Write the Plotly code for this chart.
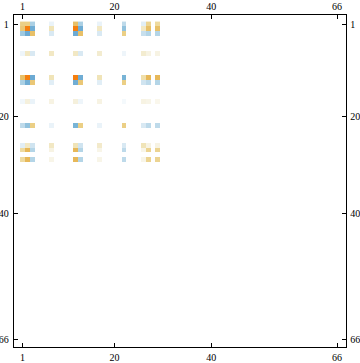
import numpy as np
import plotly.graph_objects as go

indices = [1, 2, 3, 7, 12, 13, 17, 22, 26, 27, 29]
row_1 = [.5, .5, -.5, -.15, .6, -.5, -.15, -.4, -.2, .45, .4]
row_2 = [.55, 1, -.8, .3, 1, -.8, .25, -.6, .25, .6, .6]
row_3 = [-.55, -.85, .6, -.25, -.85, .6, -.25, .5, -.35, -.45, -.45]
row_7 = [-.12, .25, -.25, .25, .25, -.25, .2, -.12, .2, .12, .12]
row_12 = [.6, 1, -.85, .3, 1, -.8, .3, -.7, .35, .65, .65]
row_13 = [-.5, -.8, .55, -.2, -.8, .55, -.2, .5, -.3, -.4, -.45]
row_17 = [-.1, .15, -.15, .12, .15, -.12, .12, -.08, .12, .1, .08]
row_22 = [-.4, -.6, .5, -.15, -.7, .5, -.15, .5, -.25, -.4, -.4]
row_26 = [-.2, .25, -.3, .25, .3, -.3, .22, -.25, .3, .12, .12]
row_27 = [.4, .65, -.45, .12, .65, -.45, .1, -.4, .1, .45, .45]
row_29 = [.4, .65, -.45, .1, .65, -.45, .1, -.4, .1, .45, .45]
rows = [row_1, row_2, row_3, row_7, row_12, row_13, row_17, row_22, row_26, row_27, row_29]
tick_vals = [1, 20, 40, 66]
size = 66

z = np.full((size, size), np.nan)
for r, vals in zip(indices, rows):
    for c, v in zip(indices, vals):
        z[r - 1, c - 1] = v

colorscale = [
    [0.0, "#5F9FD0"], [0.15, "#78B4D6"], [0.25, "#ABD0E4"], [0.35, "#D0E4F0"],
    [0.425, "#EAF3F9"], [0.5, "#FFFFFF"], [0.575, "#F5F0DC"], [0.65, "#F0E4B8"],
    [0.75, "#EBCF85"], [0.85, "#E5B04A"], [1.0, "#F57F0F"],
]

axis = dict(showgrid=False, zeroline=False, tickmode="array", tickvals=tick_vals,
            ticktext=[str(t) for t in tick_vals], ticks="inside", ticklen=4, tickwidth=1,
            tickcolor="black", showline=True, linecolor="black", linewidth=1.3,
            automargin=False,
            tickfont=dict(family="Liberation Serif", size=10, color="black"))

fig = go.Figure(go.Heatmap(x=list(range(1, size + 1)), y=list(range(1, size + 1)), z=z,
                           colorscale=colorscale, zmin=-1, zmax=1, showscale=False,
                           hoverongaps=False))
fig.add_trace(go.Scatter(x=[1], y=[1], xaxis="x2", yaxis="y2", mode="markers",
                         marker=dict(opacity=0), showlegend=False, hoverinfo="skip"))
xr = [-0.75, 67.86]
yr = [67.65, -0.86]
fig.update_layout(
    width=360, height=363, margin=dict(l=13.5, r=13.5, t=15, b=16, pad=0),
    paper_bgcolor="white", plot_bgcolor="white", showlegend=False,
    xaxis=dict(axis, range=xr, side="bottom", ticklabelstandoff=1),
    yaxis=dict(axis, range=yr, side="left", ticklabelstandoff=2),
    xaxis2=dict(axis, range=xr, side="top", overlaying="x", anchor="y"),
    yaxis2=dict(axis, range=yr, side="right", overlaying="y", anchor="x", ticklabelstandoff=1),
)
fig.write_html("out.html", config=dict(displayModeBar=False),
               post_script="document.body.style.margin='0';document.documentElement.style.overflow='hidden';")
